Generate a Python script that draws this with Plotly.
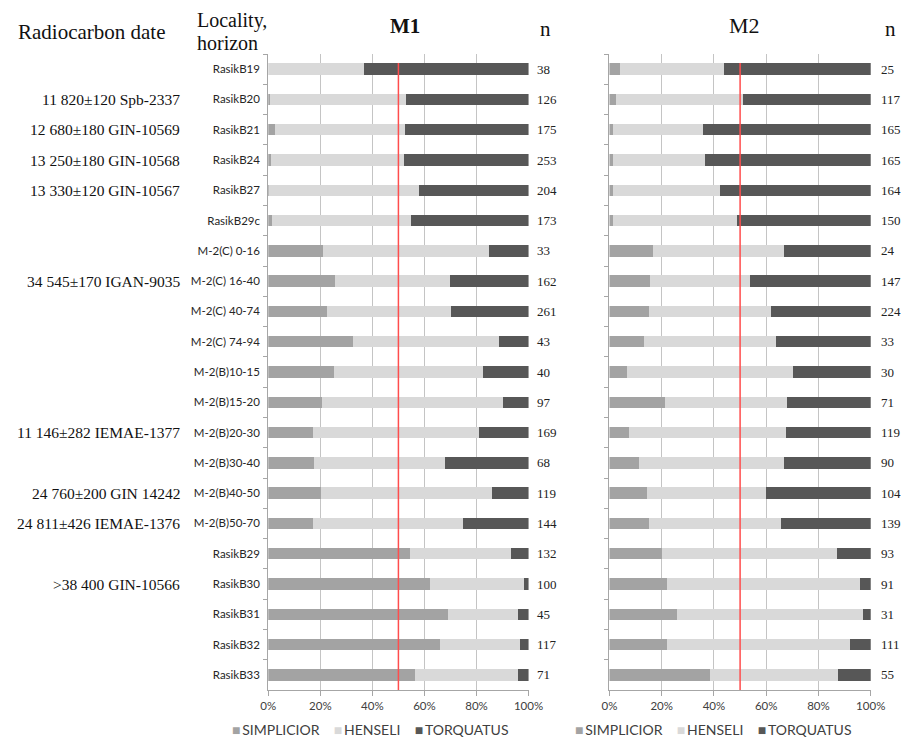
import plotly.graph_objects as go

categories = ["RasikB19", "RasikB20", "RasikB21", "RasikB24", "RasikB27", "RasikB29c",
              "M-2(C) 0-16", "M-2(C) 16-40", "M-2(C) 40-74", "M-2(C) 74-94",
              "M-2(B)10-15", "M-2(B)15-20", "M-2(B)20-30", "M-2(B)30-40",
              "M-2(B)40-50", "M-2(B)50-70", "RasikB29", "RasikB30", "RasikB31",
              "RasikB32", "RasikB33"]

m1_simplicior = [0, 0.6, 2.7, 1.0, 0.3, 1.5, 21.2, 25.8, 22.7, 32.4, 25.1, 20.6, 17.3, 17.6, 20.2, 17.3, 54.6, 62.1, 69.0, 66.0, 56.5]
m1_henseli = [36.9, 52.5, 49.8, 51.0, 57.6, 53.4, 63.7, 44.0, 47.4, 56.1, 57.4, 69.4, 63.5, 50.2, 65.7, 57.4, 38.7, 36.3, 26.9, 30.9, 39.4]
m1_torquatus = [63.1, 46.9, 47.5, 48.0, 42.1, 45.1, 15.1, 30.2, 29.9, 11.5, 17.5, 10.0, 19.2, 32.2, 14.1, 25.3, 6.7, 1.6, 4.1, 3.1, 4.1]
m1_n = [38, 126, 175, 253, 204, 173, 33, 162, 261, 43, 40, 97, 169, 68, 119, 144, 132, 100, 45, 117, 71]

m2_simplicior = [4.1, 2.6, 1.5, 1.5, 1.5, 1.5, 16.8, 15.7, 15.3, 13.4, 6.7, 21.1, 7.6, 11.2, 14.4, 15.3, 20.1, 22.1, 26.0, 21.9, 38.4]
m2_henseli = [39.9, 48.7, 34.3, 35.1, 40.9, 47.3, 50.0, 38.1, 46.4, 50.2, 63.4, 46.7, 59.9, 55.6, 45.4, 50.4, 67.1, 73.7, 71.0, 70.0, 49.1]
m2_torquatus = [56.0, 48.7, 64.2, 63.4, 57.6, 51.2, 33.2, 46.2, 38.3, 36.4, 29.9, 32.2, 32.5, 33.2, 40.2, 34.3, 12.8, 4.2, 3.0, 8.1, 12.5]
m2_n = [25, 117, 165, 165, 164, 150, 24, 147, 224, 33, 30, 71, 119, 90, 104, 139, 93, 91, 31, 111, 55]

dates = ["11 820±120 Spb-2337", "12 680±180 GIN-10569", "13 250±180 GIN-10568",
         "13 330±120 GIN-10567", "34 545±170 IGAN-9035", "11 146±282 IEMAE-1377",
         "24 760±200 GIN 14242", "24 811±426 IEMAE-1376", ">38 400 GIN-10566"]
date_rows = ["RasikB20", "RasikB21", "RasikB24", "RasikB27", "M-2(C) 16-40",
             "M-2(B)20-30", "M-2(B)40-50", "M-2(B)50-70", "RasikB30"]

series_names = ["SIMPLICIOR", "HENSELI", "TORQUATUS"]
colors = ["#a3a3a3", "#d9d9d9", "#575757"]
x_ticks = [0, 20, 40, 60, 80, 100]
x_ticklabels = ["0%", "20%", "40%", "60%", "80%", "100%"]

W, H = 914, 737
def px_x(x):
    return x / W
def px_y(y):
    return 1 - y / H

fig = go.Figure()
for vals, name, col in zip([m1_simplicior, m1_henseli, m1_torquatus], series_names, colors):
    fig.add_trace(go.Bar(y=categories, x=vals, orientation="h", name=name,
                         marker=dict(color=col, line=dict(width=0)),
                         xaxis="x", yaxis="y", showlegend=False))
for vals, name, col in zip([m2_simplicior, m2_henseli, m2_torquatus], series_names, colors):
    fig.add_trace(go.Bar(y=categories, x=vals, orientation="h", name=name,
                         marker=dict(color=col, line=dict(width=0)),
                         xaxis="x2", yaxis="y2", showlegend=False))

ydom = [px_y(690), px_y(54)]
axis_col = "#a6a6a6"
grid_col = "#c4c4c4"
tickfont = dict(family="Lato", size=11.5, color="#404040")

xcommon = dict(range=[0, 100], tickvals=x_ticks, ticktext=x_ticklabels,
               showgrid=True, gridcolor=grid_col, gridwidth=1, zeroline=False,
               showline=True, linecolor=axis_col, linewidth=1,
               ticks="outside", ticklen=5, tickcolor=axis_col, tickfont=tickfont,
               fixedrange=True)
ycommon = dict(categoryorder="array", categoryarray=categories, range=[20.5, -0.5],
               showgrid=False, zeroline=False, showline=True, linecolor=axis_col, linewidth=1,
               ticks="outside", ticklen=4, tickcolor=axis_col, tickson="boundaries",
               fixedrange=True)

fig.update_layout(
    width=W, height=H, autosize=False, margin=dict(l=0, r=0, t=0, b=0),
    paper_bgcolor="white", plot_bgcolor="white",
    barmode="stack", bargap=0.62,
    xaxis=dict(domain=[px_x(267), px_x(534)], anchor="y", **xcommon),
    yaxis=dict(domain=ydom, anchor="x", showticklabels=True,
               tickfont=dict(family="Lato", size=11.5, color="#262626"),
               ticklabelstandoff=5, **ycommon),
    xaxis2=dict(domain=[px_x(617), px_x(885)], anchor="y2", **xcommon),
    yaxis2=dict(domain=ydom, anchor="x2", showticklabels=False, **ycommon),
)

# 50% reference lines
for xr, yr in [("x", "y"), ("x2", "y2")]:
    fig.add_shape(type="line", xref=xr, yref=yr, x0=50, x1=50, y0=-0.2, y1=20.5,
                  line=dict(color="#ff4d4d", width=1.5))

serif = "Liberation Serif"
ann = []
ann.append(dict(text="Radiocarbon date", x=px_x(8), y=px_y(32), xanchor="left", yanchor="middle",
                font=dict(family=serif, size=21, color="#111")))
ann.append(dict(text="Locality,", x=px_x(192), y=px_y(20.5), xanchor="left", yanchor="middle",
                font=dict(family=serif, size=20, color="#111")))
ann.append(dict(text="horizon", x=px_x(192), y=px_y(42.5), xanchor="left", yanchor="middle",
                font=dict(family=serif, size=20, color="#111")))
ann.append(dict(text="<b>M1</b>", x=px_x(407), y=px_y(26), xanchor="center", yanchor="middle",
                font=dict(family=serif, size=21, color="#111")))
ann.append(dict(text="M2", x=px_x(756), y=px_y(26), xanchor="center", yanchor="middle",
                font=dict(family=serif, size=22, color="#111")))
ann.append(dict(text="n", x=px_x(551), y=px_y(29), xanchor="center", yanchor="middle",
                font=dict(family=serif, size=21, color="#111")))
ann.append(dict(text="n", x=px_x(905), y=px_y(29), xanchor="center", yanchor="middle",
                font=dict(family=serif, size=21, color="#111")))
for a in ann:
    a.update(xref="paper", yref="paper", showarrow=False)

for cat, n in zip(categories, m1_n):
    ann.append(dict(text=str(n), x=px_x(541), y=cat, xref="paper", yref="y", xanchor="left",
                    yanchor="middle", showarrow=False,
                    font=dict(family=serif, size=13, color="#222")))
for cat, n in zip(categories, m2_n):
    ann.append(dict(text=str(n), x=px_x(893), y=cat, xref="paper", yref="y2", xanchor="left",
                    yanchor="middle", showarrow=False,
                    font=dict(family=serif, size=13, color="#222")))
for d, cat in zip(dates, date_rows):
    ann.append(dict(text=d, x=px_x(178), y=cat, xref="paper", yref="y", xanchor="right",
                    yanchor="middle", showarrow=False,
                    font=dict(family=serif, size=15.5, color="#111")))

# legends (one under each panel)
def legend_text():
    parts = []
    for name, col in zip(series_names, colors):
        parts.append(f'<span style="color:{col}">■</span>&#8201;{name}')
    return "&nbsp;&nbsp;&nbsp;&nbsp;".join(parts)

for xc in [px_x(372), px_x(724)]:
    ann.append(dict(text=legend_text(), x=xc, y=px_y(729), xref="paper", yref="paper",
                    xanchor="center", yanchor="middle", showarrow=False,
                    font=dict(family="Lato", size=14, color="#404040")))

fig.update_layout(annotations=ann)
fig.write_html("out.html", config={"responsive": False})
